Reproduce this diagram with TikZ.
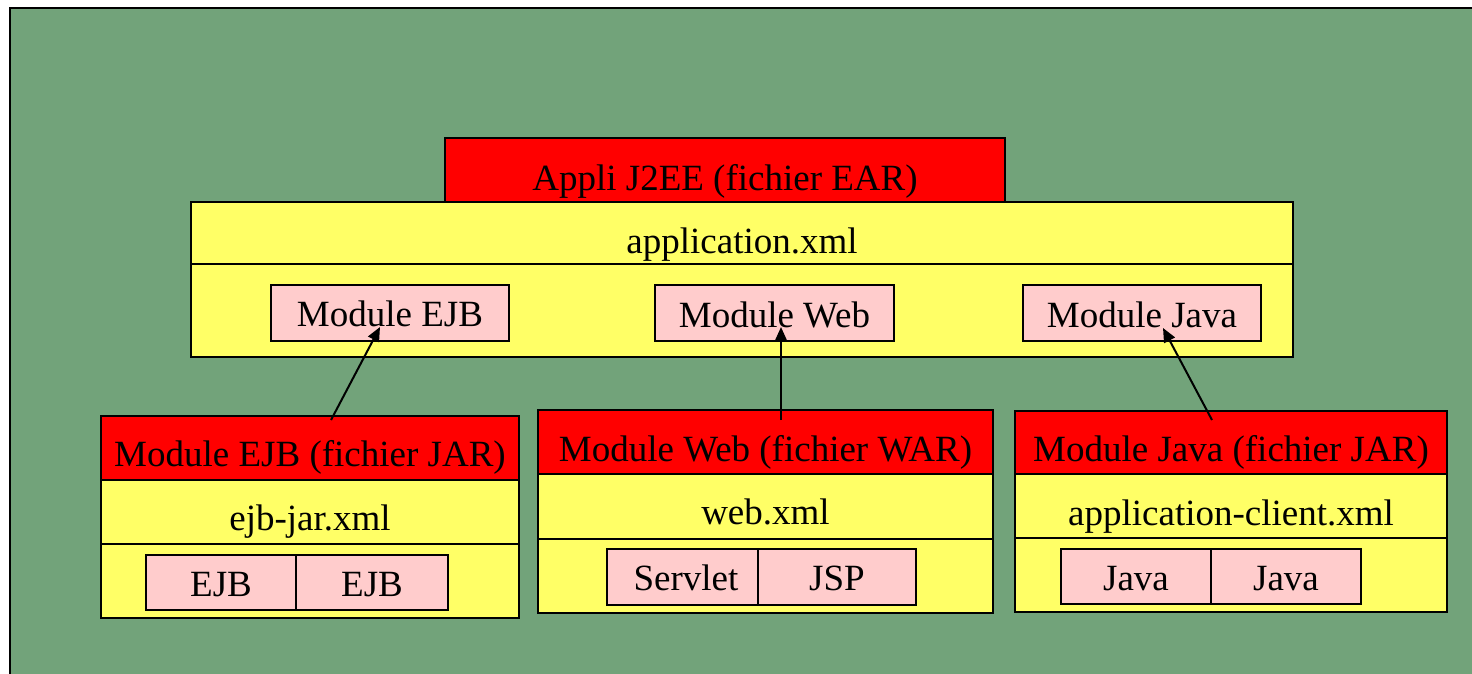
\documentclass[tikz,border=0pt]{standalone}
\usepackage{fontspec}
\setmainfont{Liberation Serif}
\usetikzlibrary{arrows.meta}
\definecolor{bggreen}{RGB}{114,163,122}
\definecolor{boxyellow}{RGB}{255,255,102}
\definecolor{boxred}{RGB}{255,0,0}
\definecolor{boxpink}{RGB}{255,204,204}
\begin{document}
\begin{tikzpicture}[x=1pt,y=-1pt,
  frame/.style={draw=black, line width=2pt, inner sep=0pt, outer sep=0pt, anchor=north west},
  part/.style={draw=black, line width=1.6pt, inner sep=0pt, outer sep=0pt, anchor=north west, fill=boxpink},
  lbl/.style={anchor=base, inner sep=0pt, font=\fontsize{37}{40}\selectfont},
  link/.style={line width=2pt, -{Triangle[length=14pt,width=12pt]}}]
\useasboundingbox (0,0) rectangle (1472,673);
\fill[white] (0,0) rectangle (1472,673);
\draw[draw=black, line width=2.5pt, fill=bggreen] (10,8) rectangle (1490,690);
% top application
\node[frame, fill=boxred, minimum width=560pt, minimum height=64pt] (earR) at (445,138) {};
\node[frame, fill=boxyellow, minimum width=1102pt, minimum height=62pt] (earY1) at (191,202) {};
\node[frame, fill=boxyellow, minimum width=1102pt, minimum height=93pt] (earY2) at (191,264) {};
\node[part, minimum width=238pt, minimum height=56pt] (mEJB) at (271,285) {};
\node[part, minimum width=239pt, minimum height=56pt] (mWeb) at (655,285) {};
\node[part, minimum width=238pt, minimum height=56pt] (mJava) at (1023,285) {};
\node[lbl] (tEar) at (725,190) {Appli J2EE (fichier EAR)};
\node[lbl] (tApp) at (742,253) {application.xml};
\node[lbl] (tmEJB) at (390,326) {Module EJB};
\node[lbl] (tmWeb) at (774.5,327) {Module Web};
\node[lbl] (tmJava) at (1142,327) {Module Java};
% EJB module
\node[frame, fill=boxred, minimum width=418pt, minimum height=64pt] (ejbR) at (101,416) {};
\node[frame, fill=boxyellow, minimum width=418pt, minimum height=64pt] (ejbY1) at (101,480) {};
\node[frame, fill=boxyellow, minimum width=418pt, minimum height=74pt] (ejbY2) at (101,544) {};
\node[part, minimum width=150pt, minimum height=55pt] (ejb1) at (146,555) {};
\node[part, minimum width=152pt, minimum height=55pt] (ejb2) at (296,555) {};
\node[lbl] (tejbR) at (310,466) {Module EJB (fichier JAR)};
\node[lbl] (tejbY) at (310,530) {ejb-jar.xml};
\node[lbl] (tejb1) at (221,596) {EJB};
\node[lbl] (tejb2) at (372,596) {EJB};
% Web module
\node[frame, fill=boxred, minimum width=455pt, minimum height=64pt] (webR) at (538,410) {};
\node[frame, fill=boxyellow, minimum width=455pt, minimum height=65pt] (webY1) at (538,474) {};
\node[frame, fill=boxyellow, minimum width=455pt, minimum height=74pt] (webY2) at (538,539) {};
\node[part, minimum width=151pt, minimum height=56pt] (serv) at (607,549) {};
\node[part, minimum width=158pt, minimum height=56pt] (jsp) at (758,549) {};
\node[lbl] (twebR) at (765.5,461) {Module Web (fichier WAR)};
\node[lbl] (twebY) at (765.5,524) {web.xml};
\node[lbl] (tserv) at (686,590) {Servlet};
\node[lbl] (tjsp) at (837,590) {JSP};
% Java module
\node[frame, fill=boxred, minimum width=432pt, minimum height=63pt] (javR) at (1015,411) {};
\node[frame, fill=boxyellow, minimum width=432pt, minimum height=64pt] (javY1) at (1015,474) {};
\node[frame, fill=boxyellow, minimum width=432pt, minimum height=74pt] (javY2) at (1015,538) {};
\node[part, minimum width=150pt, minimum height=55pt] (jav1) at (1061,549) {};
\node[part, minimum width=150pt, minimum height=55pt] (jav2) at (1211,549) {};
\node[lbl] (tjavR) at (1231,461) {Module Java (fichier JAR)};
\node[lbl] (tjavY) at (1231,525) {application-client.xml};
\node[lbl] (tjav1) at (1136,590) {Java};
\node[lbl] (tjav2) at (1286,590) {Java};
% connectors
\coordinate (ejbFrom) at (331,420);
\coordinate (ejbTo) at (380,327);
\coordinate (webFrom) at (781,420);
\coordinate (webTo) at (781,327);
\coordinate (javFrom) at (1212,420);
\coordinate (javTo) at (1163,328);
\draw[link] (ejbFrom) -- (ejbTo);
\draw[link] (webFrom) -- (webTo);
\draw[link] (javFrom) -- (javTo);
\end{tikzpicture}
\end{document}
